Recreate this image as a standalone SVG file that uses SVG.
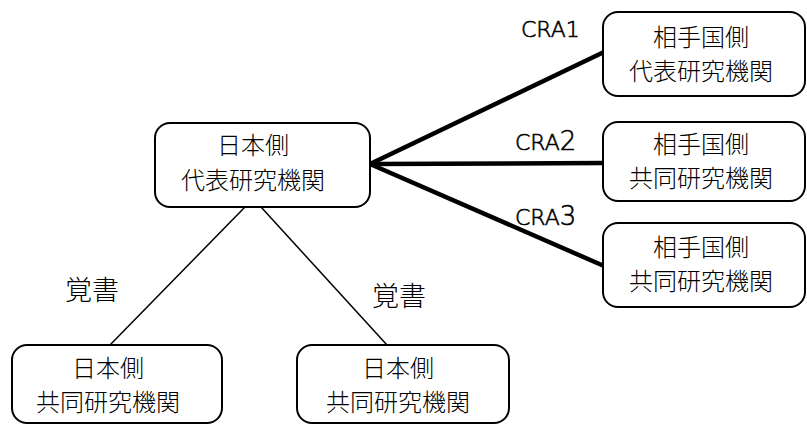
<svg xmlns="http://www.w3.org/2000/svg" width="807" height="425" viewBox="0 0 807 425">
<style>
.box{fill:#fff;stroke:#000;stroke-width:2}
.t{font-family:"Noto Sans CJK JP","Noto Sans",sans-serif;font-weight:300;font-size:24px;fill:#000;text-anchor:middle}
.lbl{font-family:"DejaVu Sans","Noto Sans CJK JP",sans-serif;font-weight:200;fill:#000;stroke:#000;stroke-width:0.6;font-size:22px}
.jl{font-family:"Noto Sans CJK JP",sans-serif;font-weight:300;fill:#000;font-size:27px}
.thick{stroke:#000;stroke-width:4.5;fill:none}
.thin{stroke:#000;stroke-width:1.5;fill:none}
</style>
<rect width="807" height="425" fill="#fff"/>
<g id="connectors">
<line class="thick" x1="370" y1="164" x2="604" y2="52"/>
<line class="thick" x1="370" y1="164" x2="604" y2="163"/>
<line class="thick" x1="370" y1="164" x2="604" y2="266"/>
<line class="thin" x1="245" y1="207" x2="110" y2="345"/>
<line class="thin" x1="261" y1="207" x2="387" y2="345"/>
<text class="lbl" x="521" y="37">CRA1</text>
<text class="lbl" x="515" y="150">CRA<tspan font-size="26">2</tspan></text>
<text class="lbl" x="515" y="225">CRA<tspan font-size="26">3</tspan></text>
<text class="jl" x="65" y="300">覚書</text>
<text class="jl" x="372" y="306">覚書</text>
</g>
<g id="jp-lead">
<rect class="box" x="155" y="123" width="215" height="84" rx="15"/>
<text class="t" x="253" y="154">日本側</text>
<text class="t" x="253" y="189">代表研究機関</text>
</g>
<g id="partner-lead">
<rect class="box" x="603" y="12" width="202" height="84" rx="15"/>
<text class="t" x="701" y="46">相手国側</text>
<text class="t" x="701" y="80">代表研究機関</text>
</g>
<g id="partner-co1">
<rect class="box" x="603" y="122" width="202" height="79" rx="15"/>
<text class="t" x="701" y="153">相手国側</text>
<text class="t" x="701" y="187">共同研究機関</text>
</g>
<g id="partner-co2">
<rect class="box" x="603" y="223" width="202" height="84" rx="15"/>
<text class="t" x="701" y="256">相手国側</text>
<text class="t" x="701" y="290">共同研究機関</text>
</g>
<g id="jp-co1">
<rect class="box" x="12" y="345" width="210" height="78" rx="15"/>
<text class="t" x="108" y="377">日本側</text>
<text class="t" x="108" y="411">共同研究機関</text>
</g>
<g id="jp-co2">
<rect class="box" x="297" y="345" width="212" height="78" rx="15"/>
<text class="t" x="398" y="377">日本側</text>
<text class="t" x="398" y="411">共同研究機関</text>
</g>
</svg>
